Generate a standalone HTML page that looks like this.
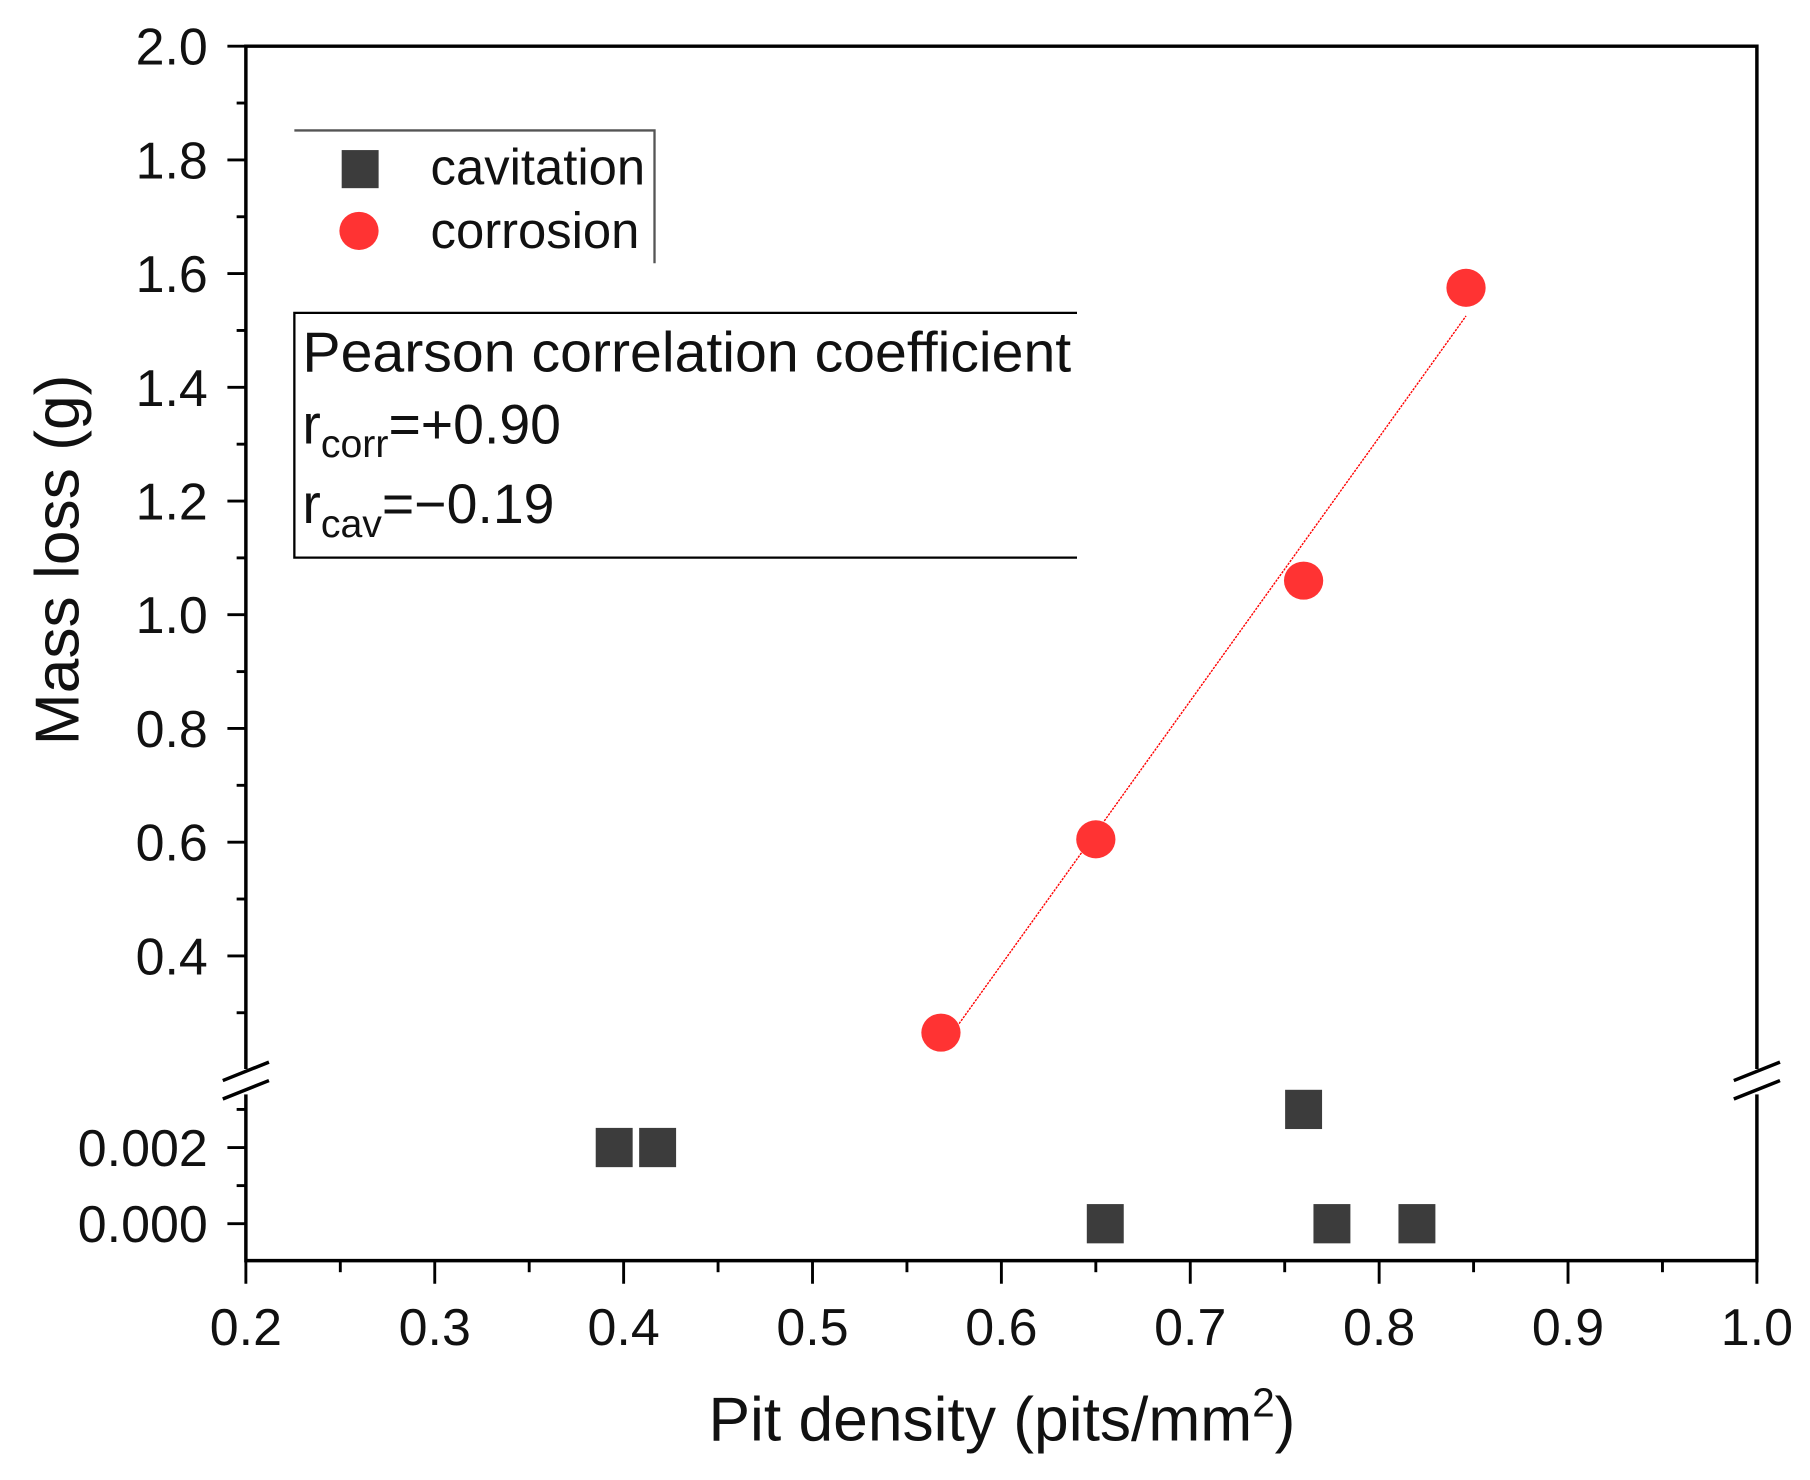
<!DOCTYPE html>
<html><head><meta charset="utf-8"><style>body{margin:0;background:#fff}svg{display:block}text{font-family:"Liberation Sans",sans-serif;fill:#111}</style></head>
<body>
<svg id="chart" width="1810" height="1480" viewBox="0 0 1568 1282" preserveAspectRatio="none" xmlns="http://www.w3.org/2000/svg">
<rect width="1568" height="1282" fill="#fff"/>
<g id="g"></g>
</svg>
<script>
const xTicks=[0.2,0.3,0.4,0.5,0.6,0.7,0.8,0.9,1.0];
const xTickLabels=["0.2","0.3","0.4","0.5","0.6","0.7","0.8","0.9","1.0"];
const yUpperTicks=[0.4,0.6,0.8,1.0,1.2,1.4,1.6,1.8,2.0];
const yUpperLabels=["0.4","0.6","0.8","1.0","1.2","1.4","1.6","1.8","2.0"];
const yLowerTicks=[0.000,0.002];
const yLowerLabels=["0.000","0.002"];
const corrX=[0.568,0.650,0.760,0.846];
const corrY=[0.265,0.605,1.060,1.575];
const cavX=[0.395,0.418,0.655,0.760,0.775,0.820];
const cavY=[0.002,0.002,0.000,0.003,0.000,0.000];

const NS="http://www.w3.org/2000/svg";
const g=document.getElementById('g');
const L=213,R=1522,T=40,B=1092,BRK=938;
const sx=v=>L+(v-0.2)/0.8*(R-L);
const syU=v=>828-(v-0.4)/0.2*98.5;
const syL=v=>1060-v/0.001*33;
function el(t,a,txt){const e=document.createElementNS(NS,t);for(const k in a)e.setAttribute(k,a[k]);if(txt!==undefined)e.textContent=txt;g.appendChild(e);return e;}

let e=el('path',{d:`M${L} ${T}H${R}V${B}H${L}Z`,fill:'none',stroke:'#000','stroke-width':3});

[L,R].forEach((x,i)=>{
 el('rect',{x:x-10,y:BRK-12,width:20,height:22,fill:'#fff'});
 e=el('path',{d:`M${x-20} ${BRK-2}L${x+20} ${BRK-18}M${x-20} ${BRK+14}L${x+20} ${BRK-2}`,stroke:'#000','stroke-width':3,fill:'none'});
 
});
xTicks.forEach((v,i)=>{
 el('line',{x1:sx(v),x2:sx(v),y1:B,y2:B+20,stroke:'#000','stroke-width':2.5});
 if(i<xTicks.length-1){const m=sx(v+0.05);el('line',{x1:m,x2:m,y1:B,y2:B+10,stroke:'#000','stroke-width':2.5});}
 e=el('text',{x:sx(v),y:1165,'font-size':45,'text-anchor':'middle'},xTickLabels[i]);
 
});
yUpperTicks.forEach((v,i)=>{
 el('line',{x1:L-16,x2:L,y1:syU(v),y2:syU(v),stroke:'#000','stroke-width':2.5});
 if(v<2.0){const m=syU(v+0.1);el('line',{x1:L-8,x2:L,y1:m,y2:m,stroke:'#000','stroke-width':2.5});}
 e=el('text',{x:180,y:syU(v)+16,'font-size':45,'text-anchor':'end'},yUpperLabels[i]);
 
});
{const m=syU(0.3);el('line',{x1:L-8,x2:L,y1:m,y2:m,stroke:'#000','stroke-width':2.5});}
yLowerTicks.forEach((v,i)=>{
 el('line',{x1:L-16,x2:L,y1:syL(v),y2:syL(v),stroke:'#000','stroke-width':2.5});
 const m=syL(v+0.001);el('line',{x1:L-8,x2:L,y1:m,y2:m,stroke:'#000','stroke-width':2.5});
 e=el('text',{x:180,y:syL(v)+16,'font-size':45,'text-anchor':'end'},yLowerLabels[i]);
 
});
e=el('text',{x:0,y:0,'font-size':54,'text-anchor':'middle',transform:'translate(68,485) rotate(-90)'},'Mass loss (g)');

e=el('text',{x:868,y:1248,'font-size':54,'text-anchor':'middle'});

e.innerHTML='Pit density (pits/mm<tspan dy="-21" font-size="35">2</tspan><tspan dy="21">)</tspan>';
const n=corrX.length,mx=corrX.reduce((a,b)=>a+b)/n,my=corrY.reduce((a,b)=>a+b)/n;
let sxy=0,sxx=0;for(let i=0;i<n;i++){sxy+=(corrX[i]-mx)*(corrY[i]-my);sxx+=(corrX[i]-mx)**2;}
const sl=sxy/sxx,ic=my-sl*mx,x0=Math.min(...corrX),x1=Math.max(...corrX);
e=el('line',{x1:sx(x0),y1:syU(ic+sl*x0),x2:sx(x1),y2:syU(ic+sl*x1),stroke:'#f00','stroke-width':1.2,'stroke-dasharray':'2 1'});

cavX.forEach((x,i)=>{e=el('rect',{x:sx(x)-16,y:syL(cavY[i])-17,width:32,height:34,fill:'#3c3c3c'});
 });
corrX.forEach((x,i)=>{e=el('ellipse',{cx:sx(x),cy:syU(corrY[i]),rx:17,ry:16.5,fill:'#f33'});
 });
e=el('path',{d:'M255 113H567V228',fill:'none',stroke:'#555','stroke-width':2});

e=el('rect',{x:296,y:130,width:32,height:33,fill:'#3c3c3c'});
e=el('text',{x:373,y:160,'font-size':44},'cavitation');
e=el('ellipse',{cx:311,cy:200,rx:17,ry:16.5,fill:'#f33'});
e=el('text',{x:373,y:215,'font-size':44},'corrosion');
e=el('path',{d:'M933 271H255V483H933',fill:'none',stroke:'#000','stroke-width':2});

e=el('text',{x:262,y:322,'font-size':49,textLength:666,lengthAdjust:'spacingAndGlyphs'},'Pearson correlation coefficient');
e=el('text',{x:262,y:384,'font-size':48});
e.innerHTML='r<tspan dy="12" font-size="34">corr</tspan><tspan dy="-12">=+0.90</tspan>';
e=el('text',{x:262,y:453,'font-size':48});
e.innerHTML='r<tspan dy="12" font-size="34">cav</tspan><tspan dy="-12">=\u22120.19</tspan>';
</script>
</body></html>
